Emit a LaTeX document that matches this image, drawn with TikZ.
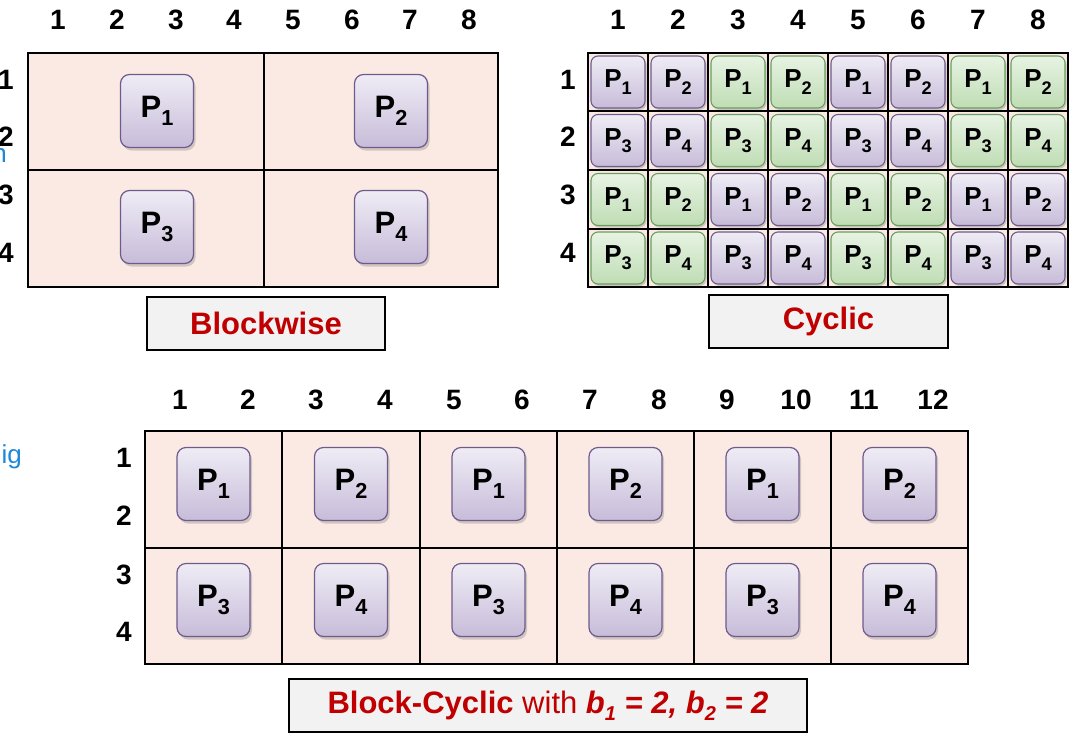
\documentclass[tikz,border=0pt]{standalone}
\usepackage{fontspec}
\setmainfont{Liberation Sans}
\usetikzlibrary{shadows}
\definecolor{cellpink}{HTML}{FBEAE4}
\definecolor{ptop}{HTML}{EFECF5}
\definecolor{pbot}{HTML}{C7BCD9}
\definecolor{pborder}{HTML}{6E5B8C}
\definecolor{gtop}{HTML}{E7F3E3}
\definecolor{gbot}{HTML}{BFDDB4}
\definecolor{gborder}{HTML}{6A9E5E}
\definecolor{titlered}{HTML}{C00000}
\definecolor{boxgray}{HTML}{F2F2F2}
\definecolor{linkblue}{HTML}{1E88D8}
\newcommand{\PP}[1]{P\raisebox{-0.24em}{\fontsize{0.7em}{0.7em}\selectfont #1}}
\tikzset{
  grid/.style={draw=black, line width=1.3pt, fill=cellpink},
  gline/.style={draw=black, line width=1.3pt},
  axis/.style={font=\fontsize{28}{28}\selectfont\bfseries, inner sep=0pt},
  pbig/.style={draw=pborder, line width=1.2pt, rounded corners=9pt, top color=ptop, bottom color=pbot,
     minimum width=73pt, minimum height=73pt, inner sep=0pt, font=\fontsize{31}{31}\selectfont\bfseries,
     drop shadow={opacity=0.35, shadow xshift=2pt, shadow yshift=-3pt}},
  psmall/.style={draw=pborder, line width=1.1pt, rounded corners=7pt, top color=ptop, bottom color=pbot,
     minimum width=54pt, minimum height=52pt, inner sep=0pt, font=\fontsize{26}{26}\selectfont\bfseries,
     drop shadow={opacity=0.35, shadow xshift=1.5pt, shadow yshift=-2pt}},
  gsmall/.style={psmall, draw=gborder, top color=gtop, bottom color=gbot},
  title/.style={draw=black, line width=1.8pt, fill=boxgray, inner sep=0pt,
     font=\fontsize{31}{31}\selectfont\bfseries, text=titlered},
  frag/.style={text=linkblue, font=\fontsize{26}{26}\selectfont, inner sep=0pt}
}
\begin{document}
\begin{tikzpicture}[x=1pt, y=-1pt]
\useasboundingbox (0,0) rectangle (1075,736);
\fill[white] (0,0) rectangle (1075,736);

% ---------- Blockwise ----------
\draw[grid] (28,53) rectangle (498,287);
\draw[gline] (264,53) -- (264,287);
\draw[gline] (28,170) -- (498,170);
\foreach \i/\x in {1/58,2/117,3/176,4/234,5/293,6/352,7/410,8/469}
  \node[axis] (bwc\i) at (\x,20) {\i};
\foreach \i/\y in {1/80,2/137,3/195,4/253}
  \node[axis] (bwr\i) at (6,\y) {\i};
\node[frag, anchor=base east] (fragn) at (7,162) {n};
\node[pbig] (bwp1) at (157,111) {\PP{1}};
\node[pbig] (bwp2) at (391,111) {\PP{2}};
\node[pbig] (bwp3) at (157,227) {\PP{3}};
\node[pbig] (bwp4) at (391,227) {\PP{4}};
\node[title, minimum width=238pt, minimum height=53pt] (bwtitle) at (266,323.5) {Blockwise};

% ---------- Cyclic ----------
\draw[grid] (588,53) rectangle (1068,287);
\foreach \x in {648,708,768,828,888,948,1008}
  \draw[gline] (\x,53) -- (\x,287);
\foreach \y in {111,170,229}
  \draw[gline] (588,\y) -- (1068,\y);
\foreach \i in {1,...,8}
  \node[axis] (cyc\i) at ({618+60*(\i-1)},20) {\i};
\foreach \i/\y in {1/80,2/137,3/195,4/253}
  \node[axis] (cyr\i) at (568,\y) {\i};
\foreach \r/\y/\a/\b/\ca/\cb in {1/82/1/2/psmall/gsmall, 2/140.5/3/4/psmall/gsmall, 3/199.5/1/2/gsmall/psmall, 4/258/3/4/gsmall/psmall}{
  \node[\ca] (cy\r-1) at (618,\y) {\PP{\a}};
  \node[\ca] (cy\r-2) at (678,\y) {\PP{\b}};
  \node[\cb] (cy\r-3) at (738,\y) {\PP{\a}};
  \node[\cb] (cy\r-4) at (798,\y) {\PP{\b}};
  \node[\ca] (cy\r-5) at (858,\y) {\PP{\a}};
  \node[\ca] (cy\r-6) at (918,\y) {\PP{\b}};
  \node[\cb] (cy\r-7) at (978,\y) {\PP{\a}};
  \node[\cb] (cy\r-8) at (1038,\y) {\PP{\b}};
}
\node[title, minimum width=239pt, minimum height=53pt] (cytitle) at (828.5,321.5) {Cyclic};

% ---------- Block-Cyclic ----------
\draw[grid] (145,431) rectangle (968,664);
\foreach \x in {282,420,557,694,831}
  \draw[gline] (\x,431) -- (\x,664);
\draw[gline] (145,548) -- (968,548);
\foreach \i/\x in {1/180,2/248,3/316,4/385,5/454,6/522,7/590,8/659,9/727,10/796,11/864,12/933}
  \node[axis] (bcc\i) at (\x,400) {\i};
\foreach \i/\y in {1/458,2/516,3/575,4/632}
  \node[axis] (bcr\i) at (124,\y) {\i};
\node[frag, anchor=base east] (fragig) at (22,463) {ig};
\foreach \c/\x/\a/\b in {1/213.5/1/3, 2/351/2/4, 3/488.5/1/3, 4/625.5/2/4, 5/762.5/1/3, 6/899.5/2/4}{
  \node[pbig] (bc1-\c) at (\x,484) {\PP{\a}};
  \node[pbig] (bc2-\c) at (\x,600) {\PP{\b}};
}
\node[title, minimum width=518pt, minimum height=53pt] (bctitle) at (548,705.5)
  {Block-Cyclic \mdseries with \bfseries\itshape b\raisebox{-0.22em}{\fontsize{20}{20}\selectfont 1} = 2, b\raisebox{-0.22em}{\fontsize{20}{20}\selectfont 2} = 2};
\end{tikzpicture}
\end{document}
